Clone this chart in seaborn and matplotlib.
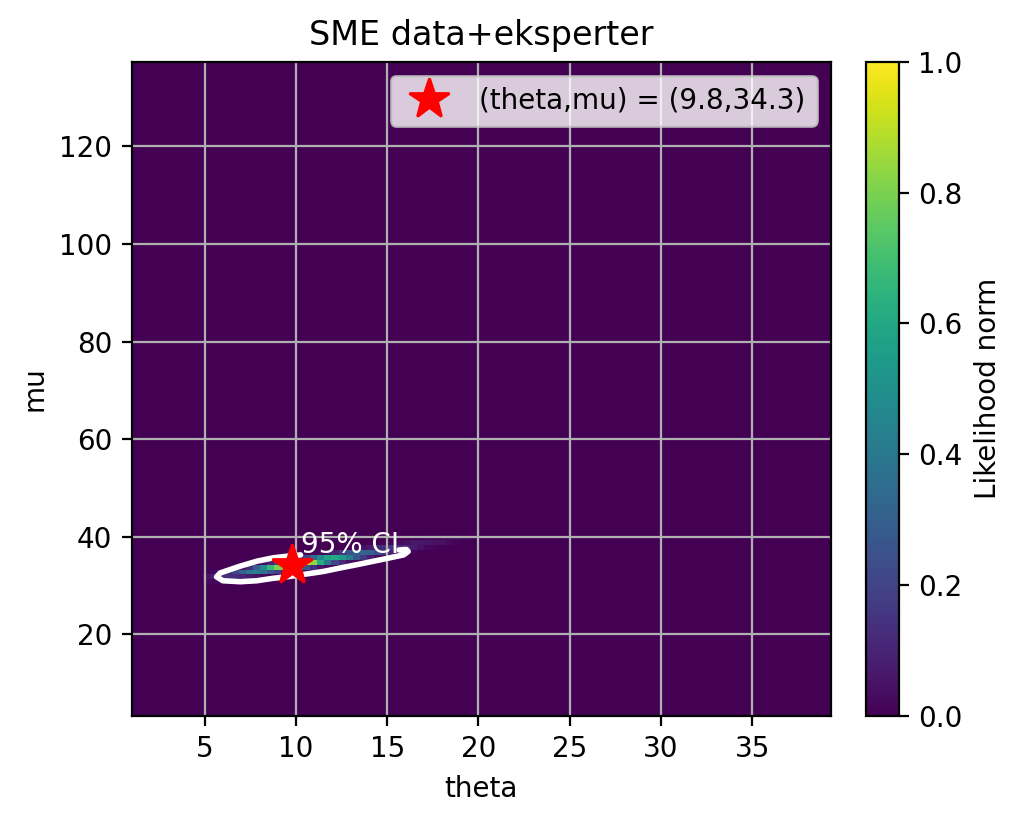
import numpy as np
import matplotlib
matplotlib.use("Agg")
import matplotlib.pyplot as plt
import seaborn as sns

# grid of the likelihood surface (cell edges)
theta_edges = np.linspace(1.0, 39.3, 99)
mu_edges = np.linspace(3.3, 137.3, 135)

# nonzero rows of the normalised likelihood: mu centre, first theta cell, values
blob_mu = [30.8, 31.8, 32.8, 33.8, 34.8, 35.8, 36.8, 37.8, 38.8, 39.8]
blob_start = [10, 10, 10, 13, 17, 21, 25, 30, 35, 41]
blob_vals = [
    [0.02, 0.02, 0.02, 0.01],
    [0.05, 0.08, 0.11, 0.13, 0.13, 0.10, 0.07, 0.04, 0.02, 0.01],
    [0.01, 0.02, 0.05, 0.11, 0.21, 0.32, 0.39, 0.42, 0.37, 0.27, 0.18, 0.10, 0.05, 0.02, 0.01],
    [0.01, 0.02, 0.06, 0.14, 0.29, 0.47, 0.67, 0.80, 0.81, 0.72, 0.48, 0.27, 0.13, 0.05, 0.02],
    [0.01, 0.04, 0.10, 0.22, 0.43, 0.70, 0.87, 0.93, 0.83, 0.62, 0.41, 0.22, 0.11, 0.04, 0.02, 0.01],
    [0.01, 0.04, 0.10, 0.20, 0.33, 0.48, 0.58, 0.60, 0.54, 0.42, 0.27, 0.16, 0.08, 0.03, 0.01],
    [0.01, 0.02, 0.05, 0.10, 0.17, 0.25, 0.31, 0.32, 0.30, 0.24, 0.16, 0.09, 0.05, 0.02, 0.01],
    [0.01, 0.02, 0.04, 0.07, 0.11, 0.14, 0.15, 0.14, 0.12, 0.08, 0.05, 0.02, 0.01],
    [0.01, 0.01, 0.03, 0.04, 0.06, 0.06, 0.06, 0.05, 0.04, 0.02, 0.01],
    [0.01, 0.01, 0.02, 0.02, 0.02, 0.01, 0.01],
]

# 95% CI contour (gap where the label sits)
ci_theta = [15.65, 16.05, 16.15, 15.9, 15.15, 14.25, 13.35, 12.4, 11.5, 10.6, 9.7, 8.75,
            7.85, 6.95, 6.0, 5.65, 5.85, 6.95, 7.85, 8.75, 9.7, 10.25]
ci_mu = [37.3, 37.4, 37.0, 36.3, 35.7, 35.0, 34.3, 33.6, 32.9, 32.4, 31.9, 31.5,
         31.0, 30.8, 31.0, 31.8, 32.6, 34.0, 35.0, 35.7, 36.1, 36.3]

best_theta = 9.8
best_mu = 34.3

Z = np.zeros((len(mu_edges) - 1, len(theta_edges) - 1))
mu_centres = (mu_edges[:-1] + mu_edges[1:]) / 2
for m, i0, vals in zip(blob_mu, blob_start, blob_vals):
    j = int(np.argmin(np.abs(mu_centres - m)))
    Z[j, i0:i0 + len(vals)] = vals

fig = plt.figure(figsize=(5.105, 4.115), dpi=200)
ax = fig.add_axes([0.129, 0.130, 0.6846, 0.795])
cax = fig.add_axes([0.848, 0.130, 0.0323, 0.795])

mesh = ax.pcolormesh(theta_edges, mu_edges, Z, cmap=sns.color_palette("viridis", as_cmap=True),
                     vmin=0, vmax=1, shading="flat")
sns.lineplot(x=ci_theta, y=ci_mu, sort=False, estimator=None, color="white", lw=2, ax=ax,
             solid_capstyle="round", solid_joinstyle="round")
ax.text(10.3, 36.6, "95% CI", color="white", fontsize=10, va="baseline")
ax.plot(best_theta, best_mu, "r*", markersize=15,
        label="(theta,mu) = ({},{})".format(best_theta, best_mu))

ax.set_xlim(theta_edges[0], theta_edges[-1])
ax.set_ylim(mu_edges[0], mu_edges[-1])
ax.set_xticks([5, 10, 15, 20, 25, 30, 35])
ax.set_yticks([20, 40, 60, 80, 100, 120])
ax.grid(True)
ax.set_title("SME data+eksperter")
ax.set_xlabel("theta")
ax.set_ylabel("mu")
ax.legend(loc="upper right")

cb = fig.colorbar(mesh, cax=cax)
cb.set_label("Likelihood norm")

fig.savefig("out.png", dpi=200)
